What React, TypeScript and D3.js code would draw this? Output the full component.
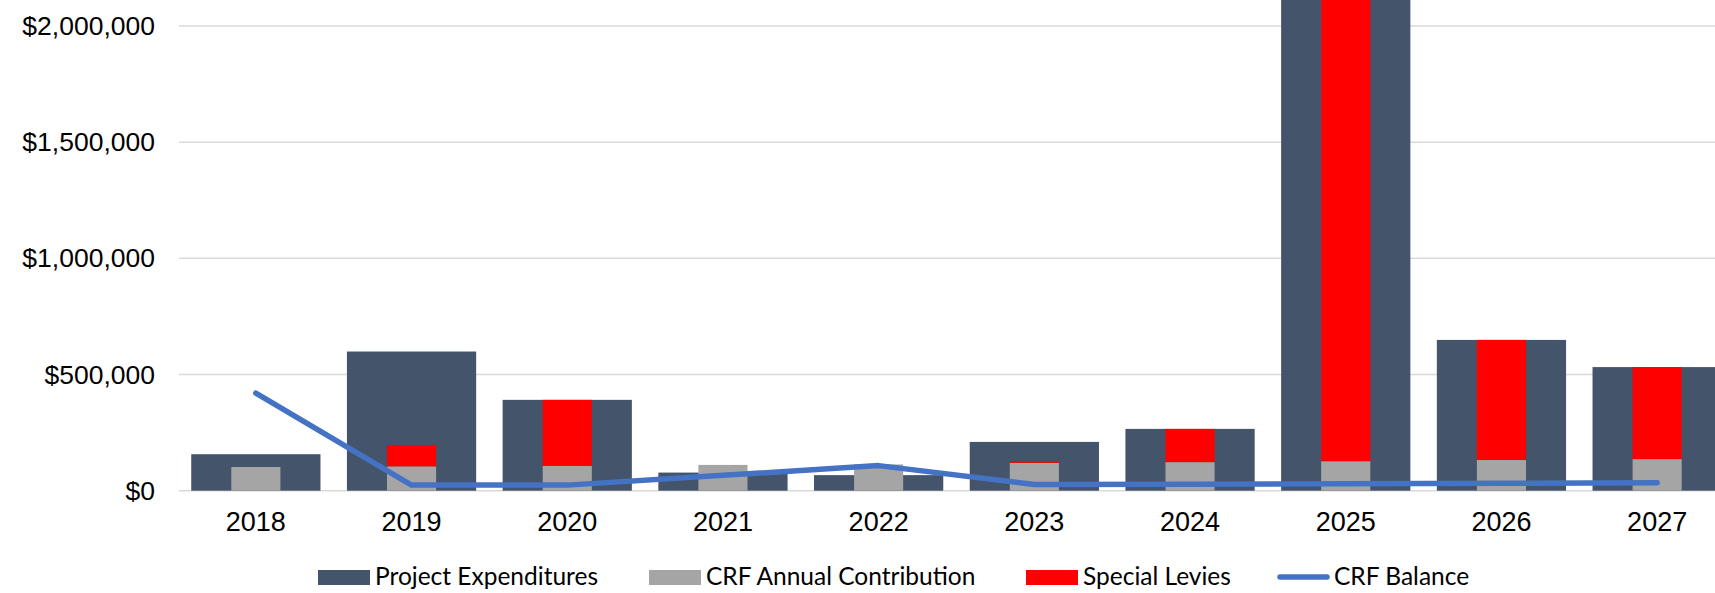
import React, { useEffect } from "react";
import * as d3 from "d3";

// Reserve fund plan, 2018–2027
const years = ["2018", "2019", "2020", "2021", "2022", "2023", "2024", "2025", "2026", "2027"];
const projectExpenditures = [157000, 599000, 391000, 78000, 67000, 210000, 266000, 2350000, 649000, 532000];
const crfContribution = [102000, 105000, 107000, 111000, 113000, 120000, 123000, 127000, 132000, 136000];
const specialLevies = [0, 92000, 284000, 0, 0, 7000, 143000, 2223000, 517000, 396000];
const crfBalance = [420000, 24000, 24000, 66000, 108000, 27000, 28000, 30000, 32000, 34000];
const yTicks = [0, 500000, 1000000, 1500000, 2000000];
const legendLabels = ["Project Expenditures", "CRF Annual Contribution", "Special Levies", "CRF Balance"];

const W = 1715;
const H = 593;
const COLORS = {
  pe: "#44546A",
  crf: "#A5A5A5",
  levy: "#FF0000",
  balance: "#4472C4",
  grid: "#D9D9D9",
};

export default function App() {
  useEffect(() => {
    document.body.style.margin = "0";
  }, []);

  const x = d3
    .scaleBand<string>()
    .domain(years)
    .range([178, 178 + 155.7 * years.length])
    .paddingInner(0.17)
    .paddingOuter(0.085);
  const y = d3.scaleLinear().domain([0, 2000000]).range([490.7, 26]);
  const fmt = (v: number) => "$" + d3.format(",")(v);

  const bw = x.bandwidth();
  const innerW = bw * 0.38;
  const cx = (yr: string) => (x(yr) as number) + bw / 2;

  const line = d3
    .line<number>()
    .x((_, i) => cx(years[i]))
    .y((d) => y(d));

  const legendX = [318, 649, 1026, 1277];
  const legendY = 577;

  return (
    <svg width={W} height={H} style={{ display: "block", background: "#fff" }}>
      {/* gridlines */}
      {yTicks.map((t) => (
        <line key={t} x1={179} x2={W} y1={y(t)} y2={y(t)} stroke={COLORS.grid} strokeWidth={1.5} />
      ))}
      {/* y-axis labels */}
      {yTicks.map((t) => (
        <text
          key={"l" + t}
          x={155}
          y={y(t)}
          textAnchor="end"
          dominantBaseline="central"
          fontFamily="'Liberation Sans', Arial, sans-serif"
          fontSize={26.5}
          fill="#000"
        >
          {fmt(t)}
        </text>
      ))}
      {/* project expenditure bars */}
      {years.map((yr, i) => (
        <rect
          key={"pe" + yr}
          x={x(yr)}
          y={y(projectExpenditures[i])}
          width={bw}
          height={y(0) - y(projectExpenditures[i])}
          fill={COLORS.pe}
        />
      ))}
      {/* CRF contribution + special levies stacked */}
      {years.map((yr, i) => (
        <g key={"st" + yr}>
          <rect
            x={cx(yr) - innerW / 2}
            y={y(crfContribution[i])}
            width={innerW}
            height={y(0) - y(crfContribution[i])}
            fill={COLORS.crf}
          />
          {specialLevies[i] > 0 && (
            <rect
              x={cx(yr) - innerW / 2}
              y={y(crfContribution[i] + specialLevies[i])}
              width={innerW}
              height={y(crfContribution[i]) - y(crfContribution[i] + specialLevies[i])}
              fill={COLORS.levy}
            />
          )}
        </g>
      ))}
      {/* CRF balance line */}
      <path
        d={line(crfBalance) || ""}
        fill="none"
        stroke={COLORS.balance}
        strokeWidth={5.5}
        strokeLinecap="round"
        strokeLinejoin="round"
      />
      {/* x-axis labels */}
      {years.map((yr) => (
        <text
          key={"x" + yr}
          x={cx(yr)}
          y={531}
          textAnchor="middle"
          fontFamily="'Liberation Sans', Arial, sans-serif"
          fontSize={27}
          fill="#000"
        >
          {yr}
        </text>
      ))}
      {/* legend */}
      {legendLabels.map((lbl, i) => {
        const lx = legendX[i];
        const swatchColor = [COLORS.pe, COLORS.crf, COLORS.levy][i];
        return (
          <g key={"lg" + i}>
            {i < 3 ? (
              <rect x={lx} y={570} width={52} height={15} fill={swatchColor} />
            ) : (
              <line
                x1={lx + 3}
                x2={lx + 50}
                y1={legendY}
                y2={legendY}
                stroke={COLORS.balance}
                strokeWidth={5.5}
                strokeLinecap="round"
              />
            )}
            <text
              x={lx + 57}
              y={585}
              fontFamily="Lato, 'Open Sans', sans-serif"
              fontSize={24.5}
              fill="#000"
            >
              {lbl}
            </text>
          </g>
        );
      })}
    </svg>
  );
}
